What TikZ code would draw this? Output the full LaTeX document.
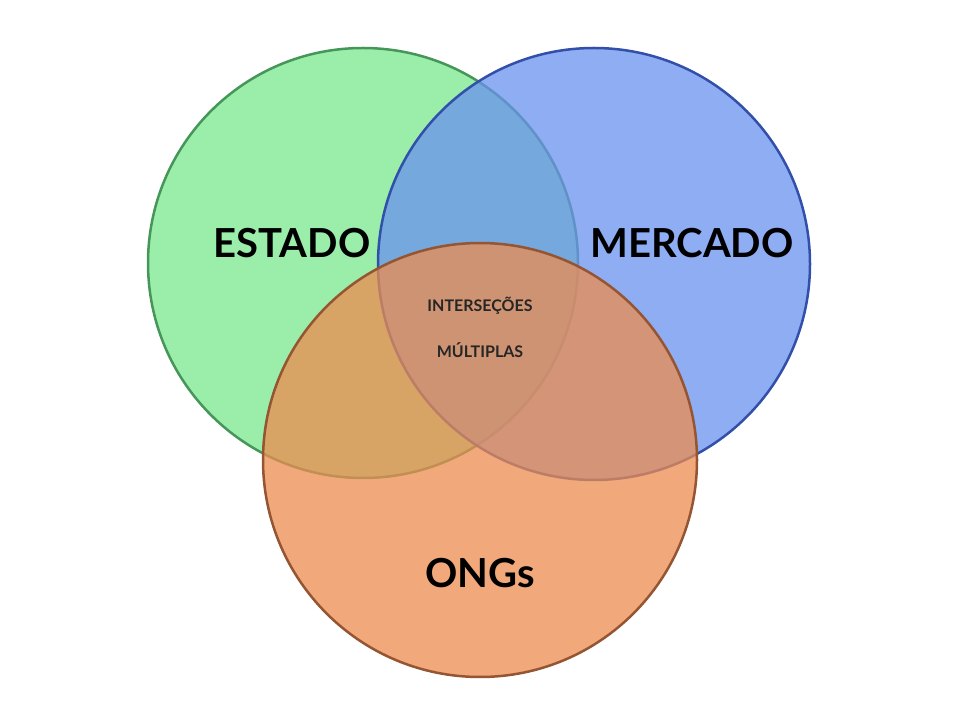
\documentclass[tikz,border=0pt]{standalone}
\usepackage{fontspec}
\setmainfont{Lato}
\begin{document}
\begin{tikzpicture}[x=1pt,y=1pt,
  circ/.style={line width=2.5pt,fill opacity=0.75},
  big/.style={font=\fontsize{40}{44}\selectfont\bfseries,text=black},
  small/.style={font=\fontsize{16}{18}\selectfont\bfseries,text=black!85}]
\useasboundingbox (0,0) rectangle (960,720);
\definecolor{gfill}{RGB}{120,232,140}
\definecolor{gedge}{RGB}{70,150,90}
\definecolor{bfill}{RGB}{105,145,238}
\definecolor{bedge}{RGB}{50,80,170}
\definecolor{ofill}{RGB}{236,140,80}
\definecolor{oedge}{RGB}{150,85,50}
\node[circle,minimum size=430pt,circ,draw=gedge,fill=gfill] (est) at (363,457) {};
\node[circle,minimum size=432pt,circ,draw=bedge,fill=bfill] (mer) at (594,456) {};
\node[circle,minimum size=434pt,circ,draw=oedge,fill=ofill] (ong) at (480,260) {};
\node[big] (t1) at (292,477) {ESTADO};
\node[big] (t2) at (692,477) {MERCADO};
\node[big] (t3) at (480,147) {ONGs};
\node[small] (t4) at (480,414) {INTERSEÇÕES};
\node[small] (t5) at (480,370) {MÚLTIPLAS};
\end{tikzpicture}
\end{document}
